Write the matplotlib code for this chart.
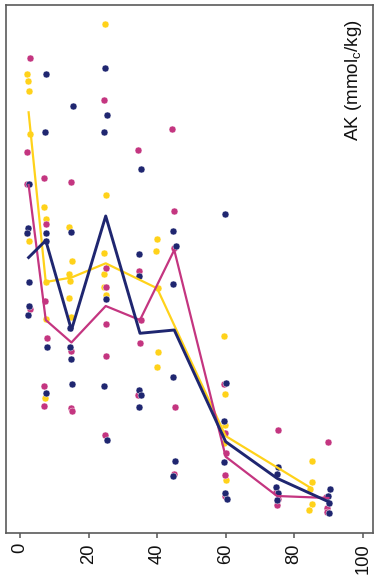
import matplotlib
matplotlib.use("Agg")
import matplotlib.pyplot as plt

plt.rcParams["font.family"] = ["Liberation Sans", "DejaVu Sans"]
plt.rcParams["mathtext.fontset"] = "custom"
plt.rcParams["mathtext.rm"] = "Liberation Sans"
plt.rcParams["mathtext.default"] = "regular"

# Colours of the three treatments
c_yellow = "#FFD21A"
c_magenta = "#C43580"
c_navy = "#1F2670"

# Replicate observations: depth (cm) and AK (mmolc/kg)
yellow_depth = [2.13, 2.42, 2.54, 2.83, 2.13, 2.71,
                7.09, 7.5, 7.5, 7.5, 7.21,
                14.39, 15.17, 14.39, 14.68, 14.39, 14.88,
                24.8, 25.1, 24.6, 24.6, 24.6, 25.1,
                40.0, 39.7, 40.2, 40.4, 39.9,
                59.5, 59.9, 59.7, 59.6, 60.0,
                85.1, 85.1, 84.6, 85.1, 84.4]
yellow_ak = [8.685, 8.547, 8.369, 7.544, 5.671, 5.525,
             6.168, 5.936, 4.749, 4.049, 2.549,
             5.796, 5.147, 4.901, 4.768, 4.441, 4.093,
             9.637, 6.401, 5.304, 4.910, 4.649, 4.503,
             5.563, 5.336, 4.630, 3.425, 3.147,
             3.733, 2.630, 2.044, 1.703, 1.003,
             1.362, 0.965, 0.833, 0.549, 0.435]

navy_depth = [2.54, 2.42, 1.96, 2.54, 2.71, 2.33,
              7.59, 7.3, 7.5, 7.5, 7.79, 7.67,
              15.38, 14.88, 14.59, 14.59, 14.88, 15.09,
              24.8, 25.3, 24.6, 25.1, 24.5, 25.4,
              35.3, 34.8, 34.8, 34.8, 35.2, 34.8,
              44.6, 45.4, 44.6, 44.7, 45.3, 44.6,
              59.9, 60.1, 59.6, 59.4, 59.8, 60.3,
              75.3, 74.9, 74.8, 75.2, 74.9,
              90.5, 90.0, 90.1, 90.3]
navy_ak = [6.604, 5.765, 5.682, 4.749, 4.295, 4.119,
           8.685, 7.593, 5.682, 5.516, 3.514, 2.655,
           8.085, 5.690, 3.873, 3.519, 3.287, 2.825,
           8.793, 7.909, 7.588, 4.428, 2.787, 1.754,
           6.887, 5.273, 4.863, 2.706, 2.611, 2.384,
           5.718, 5.436, 4.717, 2.952, 1.362, 1.073,
           6.045, 2.838, 2.119, 1.349, 0.766, 0.638,
           1.254, 1.122, 0.876, 0.751, 0.624,
           0.838, 0.700, 0.573, 0.373]

magenta_depth = [2.83, 2.13, 2.13, 2.92,
                 7.09, 7.5, 7.3, 7.79, 6.92, 6.92,
                 14.79, 14.88, 14.79, 15.09,
                 24.4, 25.1, 25.1, 25.1, 25.1, 24.8,
                 34.5, 34.8, 35.3, 34.9, 34.4,
                 44.4, 44.8, 45.0, 45.1, 45.0,
                 59.6, 59.8, 60.1, 59.8, 59.8,
                 75.4, 74.7, 75.2, 75.1,
                 90.0, 89.3, 89.5, 89.5]
magenta_ak = [8.982, 7.203, 6.609, 4.233,
              6.723, 5.841, 4.390, 3.684, 2.781, 2.409,
              6.641, 3.444, 2.365, 2.303,
              8.199, 5.014, 4.649, 3.955, 3.355, 1.849,
              7.241, 4.957, 4.030, 3.595, 2.605,
              7.644, 6.102, 5.387, 2.390, 1.113,
              2.819, 1.892, 1.508, 1.088, 0.694,
              1.943, 0.781, 0.643, 0.530,
              1.728, 0.687, 0.479, 0.403]

# Mean profiles
yellow_mean_depth = [2.5, 7.5, 15, 25, 40, 60, 85]
yellow_mean_ak = [7.960, 4.749, 4.834, 5.103, 4.630, 1.835, 0.846]

navy_mean_depth = [2.5, 7.5, 15, 25, 35, 45, 60, 75, 90]
navy_mean_ak = [5.213, 5.535, 3.841, 5.998, 3.779, 3.841, 1.728, 1.035, 0.592]

magenta_mean_depth = [2.5, 7.5, 15, 25, 35, 45, 60, 75, 90]
magenta_mean_ak = [6.585, 4.030, 3.605, 4.295, 4.030, 5.355, 1.444, 0.700, 0.662]

x_ticks = [0, 20, 40, 60, 80, 100]
y_label = "AK (mmol$_\\mathregular{c}$/kg)"

fig = plt.figure(figsize=(3.76, 5.83), dpi=100)
ax = fig.add_axes([6 / 376, 50 / 583, 367 / 376, 528.5 / 583])

dot = dict(linestyle="none", marker="o", markersize=5.0,
           markeredgecolor="white", markeredgewidth=0.3, zorder=2)
ax.plot(yellow_depth, yellow_ak, color=c_yellow, **dot)
ax.plot(magenta_depth, magenta_ak, color=c_magenta, **dot)
ax.plot(navy_depth, navy_ak, color=c_navy, **dot)

ax.plot(yellow_mean_depth, yellow_mean_ak, color=c_yellow, lw=1.6, zorder=3)
ax.plot(magenta_mean_depth, magenta_mean_ak, color=c_magenta, lw=1.6, zorder=4)
ax.plot(navy_mean_depth, navy_mean_ak, color=c_navy, lw=2.1, zorder=5)

ax.set_xlim(-4.1, 103)
ax.set_ylim(0, 10)
ax.set_xticks(x_ticks)
ax.set_xticklabels([str(t) for t in x_ticks], rotation=90, fontsize=13.2,
                   color="#111111")
ax.tick_params(axis="x", direction="out", length=3.8, width=1.1,
               color="#555555", pad=3.5)
ax.set_yticks([])

for s in ax.spines.values():
    s.set_color("#5a5a5a")
    s.set_linewidth(1.2)

ax.text(0.948, 0.972, y_label, transform=ax.transAxes, rotation=90,
        ha="center", va="top", fontsize=13.5, color="#111111")

fig.savefig("out.png", dpi=100)
